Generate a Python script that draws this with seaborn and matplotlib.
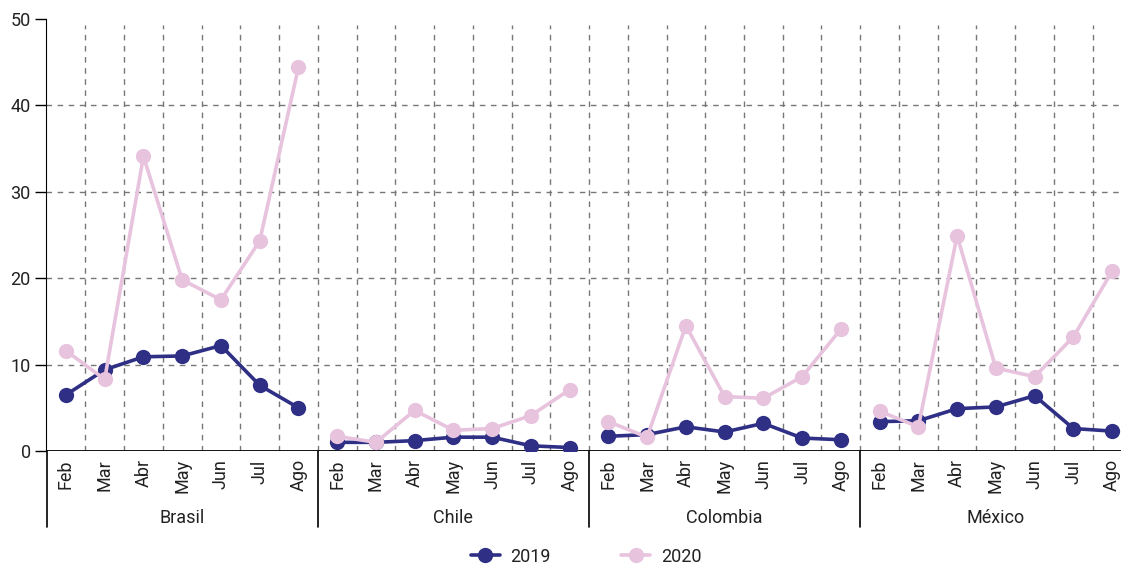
import seaborn as sns
import matplotlib.pyplot as plt
import numpy as np
import pandas as pd

months = ['Feb', 'Mar', 'Abr', 'May', 'Jun', 'Jul', 'Ago']
countries = ['Brasil', 'Chile', 'Colombia', 'México']

brasil_2019 = [6.5, 9.4, 10.9, 11.0, 12.2, 7.6, 5.0]
brasil_2020 = [11.6, 8.3, 34.1, 19.8, 17.5, 24.3, 44.4]
chile_2019 = [1.0, 1.0, 1.2, 1.6, 1.6, 0.6, 0.4]
chile_2020 = [1.7, 1.0, 4.7, 2.4, 2.6, 4.1, 7.1]
colombia_2019 = [1.7, 1.9, 2.8, 2.2, 3.2, 1.5, 1.3]
colombia_2020 = [3.4, 1.6, 14.5, 6.3, 6.1, 8.6, 14.1]
mexico_2019 = [3.4, 3.5, 4.9, 5.1, 6.4, 2.6, 2.3]
mexico_2020 = [4.6, 2.8, 24.9, 9.6, 8.6, 13.2, 20.8]

series = {
    ('Brasil', '2019'): brasil_2019, ('Brasil', '2020'): brasil_2020,
    ('Chile', '2019'): chile_2019, ('Chile', '2020'): chile_2020,
    ('Colombia', '2019'): colombia_2019, ('Colombia', '2020'): colombia_2020,
    ('México', '2019'): mexico_2019, ('México', '2020'): mexico_2020,
}

rows = []
for ci, c in enumerate(countries):
    for yr in ['2019', '2020']:
        for mi, m in enumerate(months):
            rows.append(dict(x=ci * len(months) + mi, value=series[(c, yr)][mi],
                             year=yr, country=c, month=m))
df = pd.DataFrame(rows)

sns.set_style('white')
plt.rcParams['font.family'] = ['Roboto', 'DejaVu Sans']
plt.rcParams['font.size'] = 13
plt.rcParams['text.color'] = '#222222'

palette = {'2019': '#2e2f85', '2020': '#e8c3de'}

fig = plt.figure(figsize=(11.21, 5.67), dpi=100)
ax = fig.add_axes([0.041, 0.2046, 0.959, 0.762])

sns.lineplot(data=df, x='x', y='value', hue='year', units='country',
             estimator=None, marker='o', markersize=11, linewidth=2.6,
             markeredgewidth=0, palette=palette, hue_order=['2019', '2020'],
             ax=ax, legend=False, zorder=3)

n = len(df['x'].unique())
ax.set_xlim(-0.516, 27.23)
ax.set_ylim(0, 50)
ax.set_yticks([0, 10, 20, 30, 40, 50])
ax.tick_params(axis='y', direction='out', length=8, width=1, color='black',
               labelsize=13, pad=3, left=True, labelcolor='#222222')

# grid
for v in [10, 20, 30, 40]:
    ax.axhline(v, color='#777777', linestyle=(0, (4, 4)), linewidth=1, zorder=1)
for xv in np.arange(0.5, n - 1, 1.0):
    ax.axvline(xv, ymax=0.985, color='#777777', linestyle=(0, (4, 4)), linewidth=1, zorder=1)

for s in ['top', 'right', 'bottom']:
    ax.spines[s].set_visible(False)
ax.spines['left'].set_color('black')
ax.axhline(0, color='black', linewidth=1.3, zorder=2)

ax.set_xticks(df['x'].unique())
ax.set_xticklabels(months * len(countries), rotation=90, fontsize=13)
ax.tick_params(axis='x', length=0, pad=6, labelcolor='#222222')
ax.set_xlabel('')
ax.set_ylabel('')

# group separators and labels below axis
trans = ax.get_xaxis_transform()
for b in [-0.5, 6.5, 13.5, 20.5]:
    ax.plot([b, b], [0, -0.176], color='black', linewidth=1.2, transform=trans, clip_on=False)
for ci, c in enumerate(countries):
    ax.text(ci * 7 + 3, -0.155, c, transform=trans, ha='center', va='center', fontsize=13)

handles = [plt.Line2D([], [], color=palette[y], marker='o', markersize=11,
                      linewidth=2.6, markeredgewidth=0) for y in ['2019', '2020']]
fig.legend(handles, ['2019', '2020'], loc='center', bbox_to_anchor=(0.523, 0.018),
           ncol=2, frameon=False, fontsize=13, handlelength=1.6, columnspacing=3.9,
           handletextpad=0.6)

fig.savefig('out.png', dpi=100)
